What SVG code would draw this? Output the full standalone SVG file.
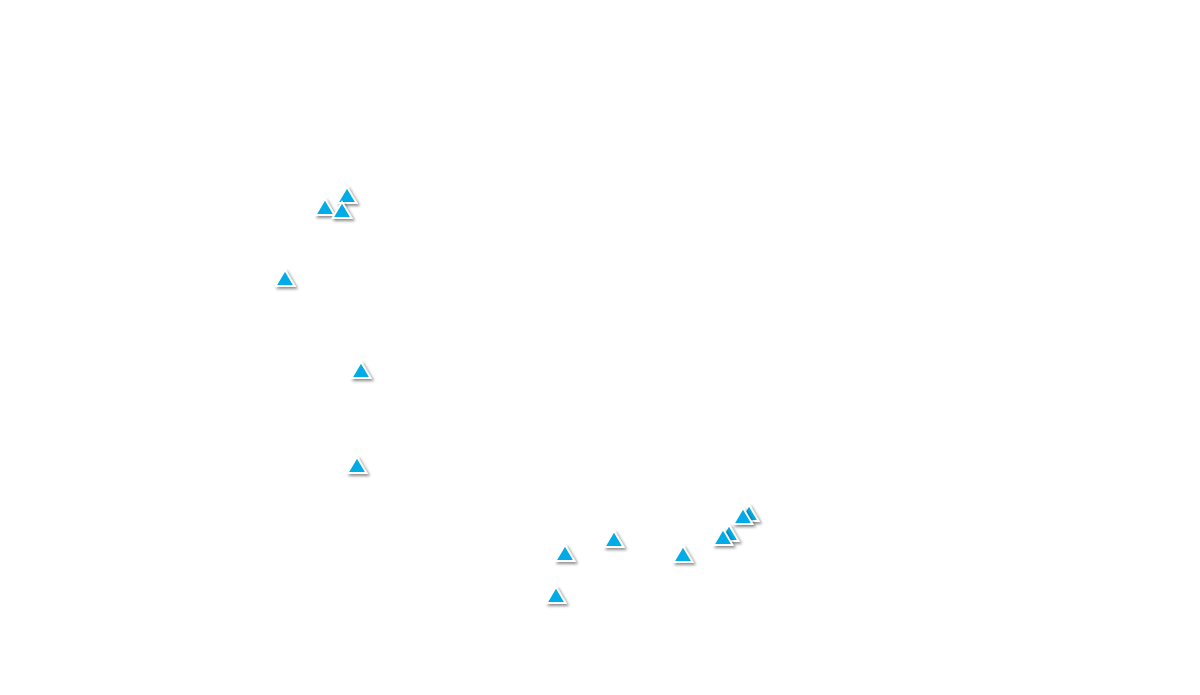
<svg xmlns="http://www.w3.org/2000/svg" xmlns:xlink="http://www.w3.org/1999/xlink" width="1200" height="695" viewBox="0 0 1200 695">
  <defs>
    <filter id="sh" x="-50%" y="-50%" width="200%" height="200%">
      <feGaussianBlur in="SourceAlpha" stdDeviation="1.6"/>
      <feOffset dx="2" dy="2" result="b"/>
      <feComponentTransfer><feFuncA type="linear" slope="0.45"/></feComponentTransfer>
      <feMerge><feMergeNode/><feMergeNode in="SourceGraphic"/></feMerge>
    </filter>
    <path id="tri" d="M0,-16 L9.5,0 L-9.5,0 Z"/>
  </defs>
  <style>
    .m { fill: #00ABE7; stroke: #FFFFFF; stroke-width: 1.8; stroke-linejoin: miter; filter: url(#sh); }
  </style>
  <rect width="1200" height="695" fill="#FFFFFF"/>
  <g id="markers">
    <g id="m1"><use href="#tri" class="m" x="347" y="203"/></g>
    <g id="m2"><use href="#tri" class="m" x="325" y="215"/></g>
    <g id="m3"><use href="#tri" class="m" x="342" y="218"/></g>
    <g id="m4"><use href="#tri" class="m" x="285" y="286"/></g>
    <g id="m5"><use href="#tri" class="m" x="361" y="378"/></g>
    <g id="m6"><use href="#tri" class="m" x="357" y="473"/></g>
    <g id="m7"><use href="#tri" class="m" x="614" y="547"/></g>
    <g id="m8"><use href="#tri" class="m" x="565" y="561"/></g>
    <g id="m9"><use href="#tri" class="m" x="683" y="562"/></g>
    <g id="m10"><use href="#tri" class="m" x="556" y="603"/></g>
    <g id="m11"><use href="#tri" class="m" x="749" y="521"/></g>
    <g id="m12"><use href="#tri" class="m" x="743" y="524"/></g>
    <g id="m13"><use href="#tri" class="m" x="729" y="541"/></g>
    <g id="m14"><use href="#tri" class="m" x="723" y="545"/></g>
  </g>
  <g id="connectors"/>
</svg>
